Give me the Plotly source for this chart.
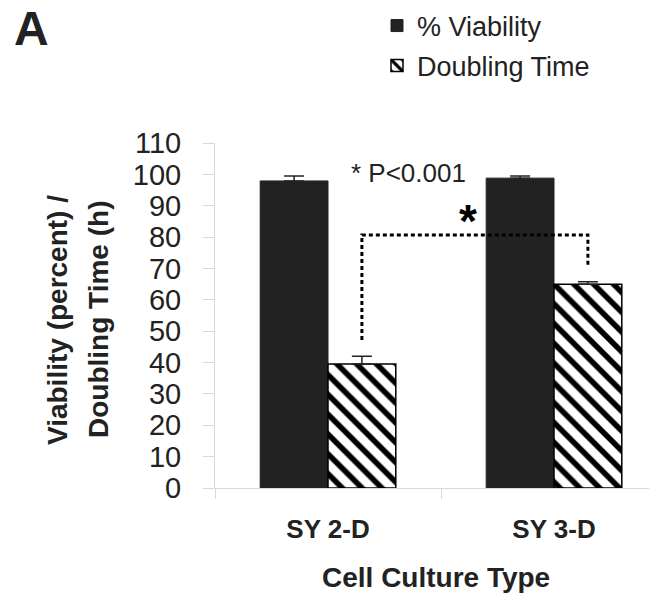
import plotly.graph_objects as go

# ---- data ----
categories = ["SY 2-D", "SY 3-D"]
cat_pos = [0, 1]
viability = [97.9, 98.8]
viability_err = [1.6, 0.7]
doubling = [39.5, 65.0]
doubling_err = [2.5, 0.8]
y_ticks = [0, 10, 20, 30, 40, 50, 60, 70, 80, 90, 100, 110]

# significance bracket (data units)
bracket_x = [0.15, 0.15, 1.15, 1.15]
bracket_y = [47.2, 80.7, 80.7, 70.5]

# ---- layout geometry ----
# The page has the browser's default 8px body margin, so the figure is drawn
# 8px smaller and all positions below are given in page pixels minus that offset.
OFF = 8
WIDTH, HEIGHT = 657 - OFF, 598 - OFF
L, R, T, B = 215, 657, 143, 488          # plot area in page pixels
PW, PH = R - L, B - T


def px(xp):
    return (xp - L) / PW


def py(yp):
    return (B - yp) / PH


FONT = "Liberation Sans, Arial, sans-serif"
DARK = "#222222"
GRID = "#d9d9d9"

fig = go.Figure()
fig.add_trace(go.Bar(
    x=cat_pos, y=viability, name="% Viability",
    marker=dict(color=DARK, line=dict(color=DARK, width=1)),
    error_y=dict(type="data", symmetric=False, array=viability_err,
                 arrayminus=[0] * len(viability_err),
                 color=DARK, thickness=1.5, width=10),
    legend="legend",
))
fig.add_trace(go.Bar(
    x=cat_pos, y=doubling, name="Doubling Time",
    marker=dict(color="white", line=dict(color="black", width=1.5),
                pattern=dict(shape="\\", fgcolor="black", bgcolor="white",
                             size=14, solidity=0.4, fillmode="replace",
                             fgopacity=1)),
    error_y=dict(type="data", symmetric=False, array=doubling_err,
                 arrayminus=[0] * len(doubling_err),
                 color=DARK, thickness=1.5, width=10),
    legend="legend2",
))
fig.add_trace(go.Scatter(
    x=bracket_x, y=bracket_y, mode="lines", showlegend=False,
    line=dict(color="black", width=3, dash="4px,3px"), hoverinfo="skip",
))

fig.update_layout(
    width=WIDTH, height=HEIGHT,
    margin=dict(l=L - OFF, r=657 - R, t=T - OFF, b=598 - B, autoexpand=False),
    paper_bgcolor="white", plot_bgcolor="white",
    barmode="group", bargap=0.4, bargroupgap=0,
    font=dict(family=FONT, color=DARK),
    legend=dict(xref="container", yref="container",
                x=(377 - OFF) / WIDTH, y=1 - (26 - OFF) / HEIGHT,
                xanchor="left", yanchor="middle", font=dict(size=27, color=DARK),
                bgcolor="rgba(0,0,0,0)"),
    legend2=dict(xref="container", yref="container",
                 x=(377 - OFF) / WIDTH, y=1 - (66 - OFF) / HEIGHT,
                 xanchor="left", yanchor="middle", font=dict(size=27, color=DARK),
                 bgcolor="rgba(0,0,0,0)"),
)

fig.update_xaxes(
    range=[-0.5, -0.5 + PW / 226.0],
    tickvals=cat_pos, ticktext=categories, ticks="",
    tickfont=dict(size=26, family=FONT, color=DARK, weight="bold"),
    ticklabelstandoff=18,
    showline=True, linecolor=GRID, linewidth=1,
    showgrid=False, zeroline=False,
    minor=dict(ticks="outside", tick0=-0.5, dtick=1, ticklen=10, tickcolor=GRID,
               tickwidth=1, showgrid=False),
)
fig.update_yaxes(
    range=[0, 110], tickvals=y_ticks,
    ticks="outside", ticklen=11, tickcolor=GRID, tickwidth=1,
    tickfont=dict(size=29, family=FONT, color=DARK),
    ticklabelstandoff=16,
    showline=True, linecolor=GRID, linewidth=1,
    showgrid=False, zeroline=False,
)

ann = [
    dict(text="<b>A</b>", x=px(31), y=py(28), font=dict(size=48, color=DARK)),
    dict(text="<b>Viability (percent) /</b>", x=px(57), y=py(320), textangle=-90,
         font=dict(size=28, color=DARK)),
    dict(text="<b>Doubling Time (h)</b>", x=px(98), y=py(320), textangle=-90,
         font=dict(size=28, color=DARK)),
    dict(text="<b>Cell Culture Type</b>", x=px(436), y=py(577),
         font=dict(size=28, color=DARK)),
    dict(text="* P<0.001", x=px(408), y=py(173), font=dict(size=26, color=DARK)),
    dict(text="<b>*</b>", x=px(468), y=py(221), font=dict(size=46, color="black")),
]
for a in ann:
    a.update(xref="paper", yref="paper", showarrow=False,
             xanchor="center", yanchor="middle")
fig.update_layout(annotations=ann)

fig.write_html("out.html")
